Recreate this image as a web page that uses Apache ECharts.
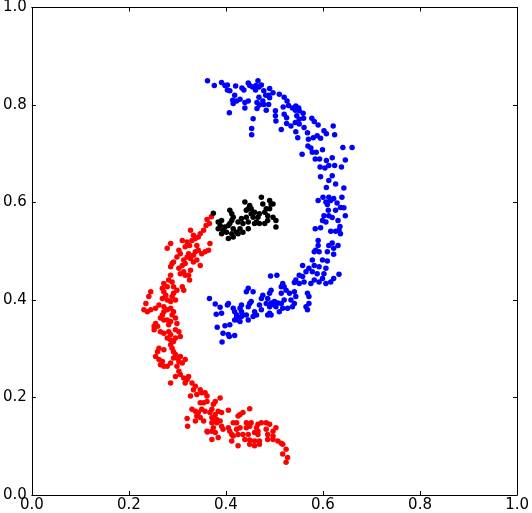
<!DOCTYPE html>
<html>
<head>
<meta charset="utf-8">
<script src="https://cdn.jsdelivr.net/npm/echarts@6/dist/echarts.min.js"></script>
<style>
html,body{margin:0;padding:0;background:#fff;}
#chart{width:532px;height:513px;}
</style>
</head>
<body>
<div id="chart"></div>
<script>
var tickValues = [0.0, 0.2, 0.4, 0.6, 0.8, 1.0];

var bluePoints = [
[0.362,0.850],[0.376,0.840],[0.391,0.846],[0.398,0.840],[0.403,0.841],[0.403,0.831],[0.408,0.829],[0.420,0.839],
[0.433,0.835],[0.437,0.831],[0.446,0.845],[0.449,0.840],[0.455,0.837],[0.462,0.840],[0.466,0.850],[0.468,0.837],
[0.461,0.831],[0.473,0.841],[0.478,0.829],[0.490,0.834],[0.497,0.825],[0.488,0.820],[0.482,0.820],[0.418,0.820],
[0.414,0.810],[0.422,0.808],[0.415,0.803],[0.429,0.812],[0.439,0.805],[0.446,0.808],[0.439,0.794],[0.407,0.784],
[0.464,0.805],[0.468,0.816],[0.476,0.808],[0.469,0.800],[0.478,0.801],[0.490,0.815],[0.488,0.801],[0.483,0.789],
[0.464,0.793],[0.456,0.772],[0.453,0.752],[0.453,0.739],[0.510,0.822],[0.520,0.816],[0.526,0.808],[0.529,0.799],
[0.518,0.796],[0.502,0.788],[0.502,0.778],[0.503,0.767],[0.520,0.781],[0.525,0.774],[0.525,0.762],[0.514,0.750],
[0.537,0.794],[0.544,0.798],[0.550,0.794],[0.543,0.789],[0.551,0.788],[0.559,0.783],[0.546,0.778],[0.551,0.771],
[0.543,0.764],[0.534,0.757],[0.560,0.773],[0.551,0.761],[0.544,0.745],[0.561,0.754],[0.568,0.743],[0.548,0.733],
[0.577,0.773],[0.582,0.766],[0.590,0.759],[0.580,0.733],[0.570,0.730],[0.588,0.737],[0.602,0.747],[0.607,0.741],
[0.621,0.757],[0.624,0.739],[0.595,0.732],[0.569,0.716],[0.575,0.712],[0.557,0.699],[0.578,0.703],[0.586,0.703],
[0.599,0.708],[0.593,0.689],[0.584,0.689],[0.607,0.686],[0.619,0.692],[0.612,0.676],[0.624,0.676],[0.641,0.713],
[0.660,0.713],[0.646,0.687],[0.638,0.673],[0.594,0.673],[0.604,0.671],[0.595,0.653],[0.619,0.655],[0.612,0.645],
[0.607,0.631],[0.626,0.638],[0.643,0.630],
[0.590,0.604],[0.600,0.611],[0.606,0.601],[0.616,0.604],[0.612,0.611],[0.622,0.608],[0.639,0.611],[0.609,0.596],
[0.629,0.599],[0.636,0.590],[0.643,0.589],[0.626,0.584],[0.611,0.584],[0.602,0.573],[0.612,0.573],[0.619,0.569],
[0.631,0.563],[0.646,0.573],[0.599,0.563],[0.606,0.560],[0.584,0.546],[0.595,0.548],[0.616,0.541],[0.626,0.541],
[0.635,0.551],[0.636,0.536],[0.633,0.543],[0.590,0.522],[0.590,0.512],[0.585,0.502],[0.612,0.512],[0.619,0.517],
[0.631,0.512],[0.622,0.506],
[0.582,0.499],[0.592,0.499],[0.609,0.499],[0.622,0.494],[0.578,0.482],[0.599,0.482],[0.609,0.480],[0.558,0.471],
[0.571,0.465],[0.582,0.471],[0.592,0.468],[0.565,0.458],[0.578,0.458],[0.588,0.454],[0.551,0.451],[0.558,0.448],
[0.606,0.465],[0.602,0.454],[0.599,0.444],[0.633,0.453],[0.622,0.444],[0.616,0.437],[0.606,0.434],[0.582,0.441],
[0.592,0.437],[0.575,0.434],[0.544,0.441],[0.541,0.436],[0.551,0.434],[0.561,0.437],[0.517,0.434],[0.520,0.427],
[0.514,0.427],[0.524,0.420],[0.514,0.414],[0.531,0.414],[0.541,0.417],[0.544,0.407],[0.568,0.414],[0.571,0.407],
[0.534,0.400],[0.520,0.400],[0.571,0.393],[0.565,0.386],[0.568,0.380],[0.541,0.393],[0.537,0.386],[0.527,0.383],
[0.517,0.383],[0.514,0.393],[0.507,0.394],[0.500,0.397],[0.492,0.449],[0.505,0.451],[0.446,0.424],[0.442,0.417],
[0.456,0.417],[0.476,0.410],[0.490,0.414],[0.486,0.403],[0.473,0.403],[0.493,0.394],[0.483,0.393],[0.490,0.386],
[0.500,0.390],[0.503,0.386],[0.452,0.397],[0.449,0.393],[0.446,0.386],[0.469,0.390],[0.473,0.380],[0.490,0.373],
[0.493,0.369],[0.486,0.369],[0.510,0.376],[0.432,0.390],[0.429,0.383],[0.432,0.376],[0.459,0.376],[0.463,0.369],
[0.456,0.366],[0.442,0.369],[0.446,0.359],[0.415,0.383],[0.418,0.376],[0.422,0.369],[0.435,0.369],[0.432,0.366],
[0.425,0.359],[0.418,0.359],[0.422,0.363],[0.429,0.356],[0.405,0.393],[0.403,0.390],[0.366,0.403],[0.378,0.392],
[0.388,0.385],[0.380,0.371],[0.391,0.373],[0.382,0.344],[0.398,0.347],[0.408,0.349],[0.405,0.329],[0.407,0.325],
[0.394,0.332],[0.392,0.314],[0.418,0.327],[0.493,0.420]
];

var blackPoints = [
[0.374,0.578],[0.384,0.560],[0.388,0.553],[0.391,0.563],[0.384,0.546],[0.394,0.543],[0.391,0.536],[0.401,0.539],
[0.398,0.550],[0.405,0.553],[0.408,0.584],[0.412,0.577],[0.415,0.570],[0.412,0.563],[0.408,0.557],[0.405,0.526],
[0.415,0.529],[0.415,0.546],[0.422,0.539],[0.425,0.560],[0.432,0.567],[0.435,0.557],[0.429,0.546],[0.435,0.539],
[0.425,0.536],[0.442,0.570],[0.446,0.560],[0.439,0.601],[0.449,0.594],[0.446,0.587],[0.442,0.584],[0.452,0.577],
[0.452,0.587],[0.456,0.570],[0.459,0.580],[0.463,0.560],[0.466,0.570],[0.469,0.577],[0.473,0.611],[0.476,0.597],
[0.483,0.587],[0.480,0.580],[0.490,0.604],[0.493,0.597],[0.490,0.587],[0.486,0.573],[0.497,0.570],[0.503,0.563],
[0.486,0.563],[0.480,0.557],[0.503,0.550],[0.469,0.557],[0.459,0.557],[0.446,0.546],[0.412,0.536],[0.497,0.597]
];

var redPoints = [
[0.370,0.571],[0.361,0.565],[0.366,0.557],[0.359,0.553],[0.354,0.543],[0.347,0.536],[0.343,0.529],[0.337,0.526],
[0.327,0.543],[0.333,0.533],[0.330,0.522],[0.310,0.522],[0.320,0.519],[0.325,0.512],[0.316,0.509],[0.367,0.516],
[0.364,0.502],[0.357,0.499],[0.350,0.495],[0.340,0.512],[0.343,0.502],[0.337,0.499],[0.333,0.492],[0.286,0.516],
[0.279,0.506],[0.303,0.502],[0.306,0.495],[0.323,0.495],[0.320,0.488],[0.327,0.485],[0.299,0.488],[0.292,0.478],
[0.289,0.475],[0.286,0.468],[0.313,0.482],[0.310,0.471],[0.316,0.475],[0.333,0.478],[0.340,0.482],[0.347,0.471],
[0.303,0.465],[0.313,0.458],[0.306,0.454],[0.316,0.451],[0.323,0.451],[0.327,0.461],[0.325,0.441],[0.286,0.451],
[0.282,0.441],[0.289,0.437],[0.272,0.434],[0.279,0.427],[0.269,0.424],[0.292,0.427],[0.299,0.420],[0.292,0.414],
[0.310,0.427],[0.313,0.420],[0.245,0.417],[0.241,0.407],[0.272,0.417],[0.276,0.410],[0.279,0.400],[0.269,0.403],
[0.289,0.407],[0.286,0.397],[0.296,0.400],[0.235,0.393],[0.231,0.380],[0.238,0.376],[0.245,0.380],[0.255,0.383],
[0.262,0.390],[0.272,0.386],[0.272,0.376],[0.279,0.380],[0.286,0.383],[0.292,0.376],[0.289,0.369],[0.269,0.369],
[0.265,0.363],[0.272,0.359],[0.255,0.352],[0.252,0.346],[0.259,0.346],[0.279,0.359],[0.286,0.356],[0.282,0.349],
[0.296,0.363],[0.299,0.352],[0.252,0.339],[0.265,0.335],[0.272,0.332],[0.282,0.335],[0.286,0.329],[0.296,0.339],
[0.303,0.335],[0.279,0.322],[0.286,0.318],[0.292,0.315],[0.296,0.322],[0.306,0.325],[0.286,0.308],[0.289,0.301],
[0.292,0.294],[0.272,0.298],[0.262,0.301],[0.259,0.294],[0.255,0.284],[0.262,0.278],[0.269,0.274],[0.265,0.267],
[0.272,0.264],[0.279,0.264],[0.286,0.271],[0.296,0.288],[0.292,0.281],[0.299,0.281],[0.306,0.284],[0.303,0.274],
[0.310,0.271],[0.316,0.278],[0.299,0.264],[0.296,0.243],[0.303,0.254],[0.306,0.247],[0.313,0.240],[0.320,0.237],
[0.316,0.230],[0.323,0.243],[0.286,0.230],[0.330,0.230],[0.337,0.223],[0.333,0.216],[0.347,0.216],[0.350,0.210],
[0.340,0.206],[0.357,0.210],[0.361,0.203],[0.327,0.203],[0.388,0.199],
[0.361,0.192],[0.354,0.189],[0.347,0.189],[0.378,0.192],[0.374,0.186],[0.330,0.176],[0.337,0.172],[0.343,0.169],
[0.350,0.176],[0.357,0.172],[0.371,0.176],[0.367,0.169],[0.384,0.172],[0.378,0.165],[0.391,0.169],[0.405,0.174],
[0.340,0.162],[0.347,0.159],[0.337,0.152],[0.354,0.152],[0.320,0.157],[0.321,0.141],[0.371,0.159],[0.374,0.155],
[0.381,0.155],[0.388,0.152],[0.371,0.148],[0.381,0.148],[0.391,0.141],[0.394,0.135],[0.374,0.138],[0.371,0.131],
[0.378,0.128],[0.361,0.131],[0.371,0.114],[0.384,0.118],[0.405,0.138],[0.408,0.131],[0.412,0.124],[0.415,0.121],
[0.415,0.148],[0.422,0.148],[0.429,0.165],[0.425,0.162],[0.435,0.169],[0.449,0.177],[0.422,0.135],[0.429,0.138],
[0.425,0.124],[0.435,0.124],[0.442,0.148],[0.452,0.148],[0.449,0.141],[0.442,0.138],[0.425,0.101],[0.439,0.114],
[0.449,0.113],[0.459,0.111],[0.469,0.111],[0.446,0.124],[0.459,0.128],[0.466,0.124],[0.463,0.138],[0.466,0.145],
[0.473,0.148],[0.469,0.104],[0.459,0.101],[0.466,0.131],[0.483,0.135],[0.486,0.124],[0.497,0.131],[0.503,0.138],
[0.483,0.148],[0.490,0.145],[0.486,0.114],[0.497,0.114],[0.507,0.111],[0.497,0.121],[0.514,0.106],[0.517,0.104],
[0.524,0.094],[0.517,0.084],[0.527,0.077],[0.524,0.067],[0.449,0.104],[0.412,0.111],[0.362,0.129]
];

var chart = echarts.init(document.getElementById('chart'), null, {renderer: 'canvas'});

var fontFamily = '"DejaVu Sans", sans-serif';
function fmt(v) { return Number(v).toFixed(1); }

function baseAxis(pos, showLabel) {
  var isX = (pos === 'bottom' || pos === 'top');
  return {
    type: 'value',
    position: pos,
    min: tickValues[0],
    max: tickValues[tickValues.length - 1],
    interval: tickValues[1] - tickValues[0],
    splitLine: {show: false},
    axisLine: {show: true, onZero: false, lineStyle: {color: '#000', width: 1}},
    axisTick: {show: true, inside: true, length: 4, lineStyle: {color: '#000', width: 1}},
    axisLabel: {
      show: showLabel,
      formatter: fmt,
      color: '#000',
      fontFamily: fontFamily,
      fontSize: 15,
      margin: isX ? 3 : 5
    }
  };
}

var xBottom = baseAxis('bottom', true);
var xTop = baseAxis('top', false);
var yLeft = baseAxis('left', true);
var yRight = baseAxis('right', false);

function series(name, data, color) {
  return {
    name: name,
    type: 'scatter',
    data: data,
    symbol: 'circle',
    symbolSize: 5.5,
    itemStyle: {color: color, opacity: 1},
    xAxisIndex: 0,
    yAxisIndex: 0,
    silent: true
  };
}

chart.setOption({
  animation: false,
  backgroundColor: '#fff',
  grid: {left: 30, right: 12, top: 6, bottom: 17, containLabel: false},
  xAxis: [xBottom, xTop],
  yAxis: [yLeft, yRight],
  series: [
    series('blue', bluePoints, '#0000ff'),
    series('red', redPoints, '#ff0000'),
    series('black', blackPoints, '#000000')
  ]
});
</script>
</body>
</html>
